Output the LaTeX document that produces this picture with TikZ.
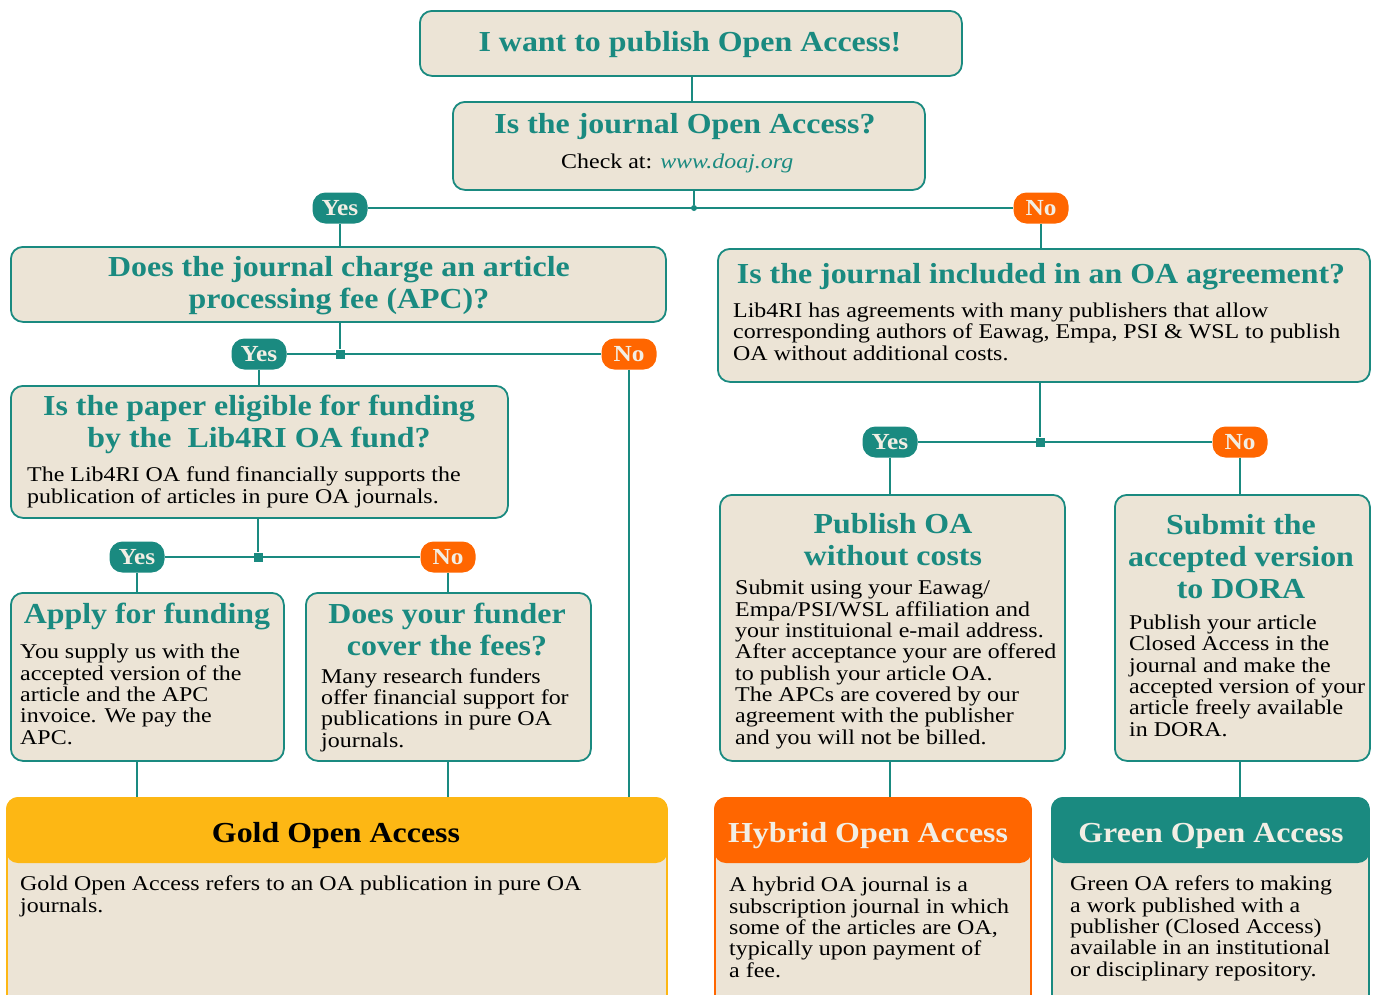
\documentclass[tikz,border=0pt]{standalone}
\usepackage{fontspec}
\setmainfont{Liberation Serif}[FakeStretch=1.14]
\newfontfamily\ttlfont{Liberation Serif}[FakeStretch=1.1]
\usetikzlibrary{backgrounds}
\definecolor{teal1}{HTML}{1A8A80}
\definecolor{org}{HTML}{FF6600}
\definecolor{gold}{HTML}{FDB714}
\definecolor{beige}{HTML}{ECE4D6}
\definecolor{pale}{HTML}{F2EEE4}
\begin{document}
\begin{tikzpicture}[x=1pt,y=-1pt,
 box/.style={draw=teal1, line width=1.8pt, fill=beige, rounded corners=12pt, anchor=north west, inner sep=0},
 ttl/.style={font=\ttlfont\bfseries\fontsize{29}{32}\selectfont, text=teal1, align=center, anchor=base, inner sep=0},
 bdy/.style={font=\fontsize{21}{21.3}\selectfont, align=left, anchor=base west, inner sep=0},
 pill/.style={rounded corners=13pt, minimum width=55pt, minimum height=31pt, inner sep=0, font=\ttlfont\bfseries\fontsize{23}{23}\selectfont, text=pale},
 yes/.style={pill, fill=teal1},
 no/.style={pill, fill=org},
 conn/.style={draw=teal1, line width=2pt},
 sq/.style={fill=teal1, minimum size=9pt, inner sep=0},
 dot/.style={fill=teal1, circle, minimum size=6pt, inner sep=0},
]
\clip (0,0) rectangle (1373,994);

% boxes
\node[box, minimum width=542pt, minimum height=65pt] (b1) at (419,10) {};
\node[box, minimum width=472pt, minimum height=88pt] (b2) at (452,101) {};
\node[box, minimum width=655pt, minimum height=75pt] (b3) at (10,246) {};
\node[box, minimum width=497pt, minimum height=132pt] (b4) at (10,385) {};
\node[box, minimum width=273pt, minimum height=168pt] (b5) at (10,592) {};
\node[box, minimum width=285pt, minimum height=168pt] (b6) at (305,592) {};
\node[box, minimum width=652pt, minimum height=133pt] (b7) at (717,248) {};
\node[box, minimum width=345pt, minimum height=266pt] (b8) at (719,494) {};
\node[box, minimum width=255pt, minimum height=266pt] (b9) at (1114,494) {};

% result boxes
\node[box, draw=gold, minimum width=660pt, minimum height=215pt] (gd) at (6,797) {};
\node[box, draw=none, fill=gold, minimum width=661.8pt, minimum height=66pt] (gdh) at (5.1,796.1) {};
\node[box, draw=org, minimum width=316pt, minimum height=215pt] (hy) at (714,797) {};
\node[box, draw=none, fill=org, minimum width=317.8pt, minimum height=66pt] (hyh) at (713.1,796.1) {};
\node[box, draw=teal1, minimum width=317pt, minimum height=215pt] (gr) at (1051,797) {};
\node[box, draw=none, fill=teal1, minimum width=318.8pt, minimum height=66pt] (grh) at (1050.1,796.1) {};

% pills and junctions
\node[yes] (y1) at (340,208) {Yes};
\node[no]  (n1) at (1041,208) {No};
\node[dot] (j1) at (694,208) {};
\node[yes] (y2) at (259,354) {Yes};
\node[no]  (n2) at (629,354) {No};
\node[sq]  (j2) at (340,354) {};
\node[yes] (y3) at (137,557) {Yes};
\node[no]  (n3) at (448,557) {No};
\node[sq]  (j3) at (258,557) {};
\node[yes] (y4) at (890,442) {Yes};
\node[no]  (n4) at (1240,442) {No};
\node[sq]  (j4) at (1040,442) {};

% connectors
\begin{pgfonlayer}{background}
\draw[conn] (b1.south -| 692,0) -- (b2.north -| 692,0);
\draw[conn] (j1 |- b2.south) -- (j1);
\draw[conn] (y1) -- (n1);
\draw[conn] (y1) -- (y1 |- b3.north);
\draw[conn] (n1) -- (n1 |- b7.north);
\draw[conn] (j2 |- b3.south) -- (j2);
\draw[conn] (y2) -- (n2);
\draw[conn] (y2) -- (y2 |- b4.north);
\draw[conn] (n2) -- (n2 |- gd.north);
\draw[conn] (j3 |- b4.south) -- (j3);
\draw[conn] (y3) -- (n3);
\draw[conn] (y3) -- (y3 |- b5.north);
\draw[conn] (n3) -- (n3 |- b6.north);
\draw[conn] (y3 |- b5.south) -- (y3 |- gd.north);
\draw[conn] (n3 |- b6.south) -- (n3 |- gd.north);
\draw[conn] (j4 |- b7.south) -- (j4);
\draw[conn] (y4) -- (n4);
\draw[conn] (y4) -- (y4 |- b8.north);
\draw[conn] (n4) -- (n4 |- b9.north);
\draw[conn] (y4 |- b8.south) -- (y4 |- hy.north);
\draw[conn] (n4 |- b9.south) -- (n4 |- gr.north);
\end{pgfonlayer}

% texts (multi-line nodes are placed by the baseline of their last line)
\node[ttl] (t1) at (690,51) {I want to publish Open Access!};
\node[ttl] (t2) at (685,133) {Is the journal Open Access?};
\node[bdy] (c2) at (561,168) {Check at: \textcolor{teal1}{\itshape www.doaj.org}};
\node[ttl] (t3) at (339,308) {Does the journal charge an article\\processing fee (APC)?};
\node[ttl] (t7) at (1041,283) {Is the journal included in an OA agreement?};
\node[bdy] (c7) at (733,360) {Lib4RI has agreements with many publishers that allow\\corresponding authors of Eawag, Empa, PSI \& WSL to publish\\OA without additional costs.};
\node[ttl] (t4) at (259,447) {Is the paper eligible for funding\\by the~ Lib4RI OA fund?};
\node[bdy] (c4) at (27,503) {The Lib4RI OA fund financially supports the\\publication of articles in pure OA journals.};
\node[ttl] (t5) at (147,623) {Apply for funding};
\node[bdy] (c5) at (20,744) {You supply us with the\\accepted version of the\\article and the APC\\invoice. We pay the\\APC.};
\node[ttl] (t6) at (447,655) {Does your funder\\cover the fees?};
\node[bdy] (c6) at (321,747) {Many research funders\\offer financial support for\\publications in pure OA\\journals.};
\node[ttl] (t8) at (893,565) {Publish OA\\without costs};
\node[bdy] (c8) at (735,744) {Submit using your Eawag/\\Empa/PSI/WSL affiliation and\\your instituional e-mail address.\\After acceptance your are offered\\to publish your article OA.\\The APCs are covered by our\\agreement with the publisher\\and you will not be billed.};
\node[ttl] (t9) at (1241,598) {Submit the\\accepted version\\to DORA};
\node[bdy] (c9) at (1129,736) {Publish your article\\Closed Access in the\\journal and make the\\accepted version of your\\article freely available\\in DORA.};
\node[ttl, text=black] (tg) at (336,842) {Gold Open Access};
\node[bdy] (cg) at (20,912) {Gold Open Access refers to an OA publication in pure OA\\journals.};
\node[ttl, text=pale] (th) at (868,842) {Hybrid Open Access};
\node[bdy] (ch) at (729,977) {A hybrid OA journal is a\\subscription journal in which\\some of the articles are OA,\\typically upon payment of\\a fee.};
\node[ttl, text=pale] (tr) at (1211,842) {Green Open Access};
\node[bdy] (cr) at (1070,976) {Green OA refers to making\\a work published with a\\publisher (Closed Access)\\available in an institutional\\or disciplinary repository.};
\end{tikzpicture}
\end{document}
